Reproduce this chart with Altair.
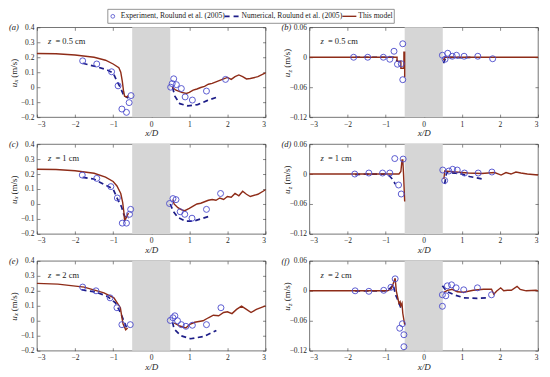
import altair as alt
import pandas as pd

W, H = 229, 90
FONT = "Liberation Serif"
C_EXP = "#4b4bcc"
C_NUM = "#1d1d88"
C_MOD = "#8e2c18"
C_BLOCK = "#d6d6d6"

X_TICKS = [-3, -2, -1, 0, 1, 2, 3]
UX_DOMAIN = [-0.2, 0.4]
UX_TICKS = [-0.2, -0.1, 0, 0.1, 0.2, 0.3, 0.4]
UZ_DOMAIN = [-0.12, 0.06]
UZ_TICKS = [-0.12, -0.06, 0, 0.06]
PILE = [-0.5, 0.5]

LEGEND_LABELS = ["Experiment, Roulund et al. (2005)", "Numerical, Roulund et al. (2005)", "This model"]
TAGS = ["(a)", "(b)", "(c)", "(d)", "(e)", "(f)"]
Z_LABELS = ["0.5 cm", "0.5 cm", "1 cm", "1 cm", "2 cm", "2 cm"]

# ---------- panel (a): u_x, z = 0.5 cm ----------
a_exp_x = [-1.80, -1.43, -1.04, -0.87, -0.53, -0.58, -0.77, -0.65, 0.51, 0.59, 0.55, 0.66, 0.79, 0.89, 1.08, 1.45, 1.95]
a_exp_y = [0.176, 0.155, 0.103, 0.009, -0.056, -0.103, -0.146, -0.168, 0.0, 0.056, 0.024, 0.017, -0.009, -0.065, -0.086, -0.026, 0.052]
a_num_lx = [-1.8, -1.46, -1.16, -1.0, -0.9, -0.81, -0.72, -0.6]
a_num_ly = [0.16, 0.138, 0.116, 0.095, 0.04, -0.002, -0.056, -0.073]
a_num_rx = [0.56, 0.62, 0.75, 0.96, 1.22, 1.48, 1.7]
a_num_ry = [-0.002, -0.06, -0.11, -0.125, -0.116, -0.088, -0.069]
a_mod_lx = [-3.0, -2.5, -2.0, -1.5, -1.2, -1.0, -0.85, -0.8, -0.76, -0.73, -0.7, -0.65, -0.6]
a_mod_ly = [0.225, 0.223, 0.215, 0.2, 0.18, 0.155, 0.13, 0.1, 0.04, -0.02, -0.06, -0.065, -0.055]
a_mod_rx = [0.55, 0.65, 0.8, 0.92, 1.0, 1.1, 1.2, 1.3, 1.4, 1.5, 1.6, 1.7, 1.8, 1.9, 2.0, 2.1, 2.2, 2.3, 2.4, 2.5, 2.6, 2.8, 3.0]
a_mod_ry = [0.0, -0.02, -0.035, -0.042, -0.035, -0.02, -0.012, -0.002, 0.005, 0.02, 0.025, 0.035, 0.045, 0.055, 0.065, 0.052, 0.07, 0.082, 0.07, 0.055, 0.058, 0.07, 0.095]

# ---------- panel (b): u_z, z = 0.5 cm ----------
b_exp_x = [-1.84, -1.47, -1.06, -0.89, -0.78, -0.69, -0.59, -0.55, -0.55, 0.49, 0.56, 0.63, 0.75, 0.86, 1.06, 1.42, 1.81]
b_exp_y = [0.0, 0.0, 0.0, -0.004, 0.012, -0.014, -0.013, 0.027, -0.045, 0.004, -0.004, 0.008, 0.002, 0.004, 0.002, 0.002, -0.003]
b_num_lx = [-1.8, -1.0, -0.8, -0.72, -0.7]
b_num_ly = [0.0, 0.0, 0.0, -0.003, -0.008]
b_num_rx = [0.52, 0.57, 0.7, 1.0, 1.3]
b_num_ry = [-0.012, -0.002, 0.0, -0.001, 0.0]
b_mod_lx = [-3.0, -0.7, -0.7, -0.6, -0.6, -0.52, -0.52, -0.5, -0.5]
b_mod_ly = [0.0, 0.0, -0.008, -0.008, -0.022, -0.022, 0.01, 0.01, -0.04]
b_mod_rx = [0.52, 0.55, 3.0]
b_mod_ry = [-0.006, 0.0, 0.0]

# ---------- panel (c): u_x, z = 1 cm ----------
c_exp_x = [-1.81, -1.43, -1.06, -0.89, -0.54, -0.57, -0.76, -0.65, 0.48, 0.57, 0.65, 0.76, 0.88, 1.07, 1.45, 1.82]
c_exp_y = [0.193, 0.171, 0.116, 0.04, -0.036, -0.069, -0.128, -0.128, 0.003, 0.036, 0.029, -0.052, -0.069, -0.095, -0.036, 0.07]
c_num_lx = [-1.8, -1.51, -1.26, -1.0, -0.89, -0.78, -0.72, -0.66, -0.6]
c_num_ly = [0.178, 0.167, 0.134, 0.1, 0.036, -0.019, -0.07, -0.1, -0.09]
c_num_rx = [0.5, 0.58, 0.7, 0.9, 1.1, 1.3, 1.55]
c_num_ry = [0.0, -0.05, -0.09, -0.115, -0.115, -0.1, -0.08]
c_mod_lx = [-3.0, -2.5, -2.0, -1.5, -1.2, -1.0, -0.9, -0.8, -0.75, -0.72, -0.7, -0.65, -0.6]
c_mod_ly = [0.232, 0.23, 0.222, 0.205, 0.18, 0.15, 0.12, 0.07, 0.01, -0.05, -0.11, -0.09, -0.06]
c_mod_rx = [0.57, 0.6, 0.7, 0.8, 0.88, 1.0, 1.1, 1.2, 1.3, 1.4, 1.5, 1.6, 1.7, 1.8, 1.9, 2.0, 2.1, 2.2, 2.3, 2.4, 2.5, 2.6, 2.8, 3.0]
c_mod_ry = [0.03, 0.0, -0.025, -0.04, -0.045, -0.03, -0.015, 0.0, 0.005, 0.015, 0.025, 0.03, 0.025, 0.04, 0.03, 0.05, 0.045, 0.07, 0.055, 0.085, 0.065, 0.05, 0.065, 0.095]

# ---------- panel (d): u_z, z = 1 cm ----------
d_exp_x = [-1.81, -1.44, -1.08, -0.89, -0.76, -0.54, -0.66, -0.59, 0.5, 0.55, 0.66, 0.76, 0.88, 1.07, 1.43, 1.79]
d_exp_y = [0.0, 0.002, 0.002, 0.002, 0.031, 0.03, -0.022, -0.04, 0.008, -0.013, 0.006, 0.0095, 0.008, 0.002, 0.002, 0.004]
d_num_lx = [-1.8, -1.4, -1.0, -0.9, -0.8, -0.75]
d_num_ly = [-0.001, 0.0, 0.0, -0.004, -0.012, -0.02]
d_num_rx = [0.55, 0.6, 0.8, 1.0, 1.2, 1.55]
d_num_ry = [-0.02, 0.003, 0.002, 0.0, -0.005, -0.01]
d_mod_lx = [-3.0, -0.65, -0.6, -0.57, -0.55, -0.53, -0.5]
d_mod_ly = [0.0, 0.0, 0.005, 0.028, 0.028, 0.0, -0.055]
d_mod_rx = [0.53, 0.55, 0.83, 1.17, 1.52, 1.86, 2.03, 2.16, 2.29, 2.42, 2.55, 2.72, 3.0]
d_mod_ry = [-0.01, 0.006, 0.004, 0.002, 0.001, 0.003, -0.002, 0.003, 0.0, 0.004, 0.002, 0.0, -0.002]

# ---------- panel (e): u_x, z = 2 cm ----------
e_exp_x = [-1.8, -1.45, -1.08, -0.9, -0.77, -0.55, 0.5, 0.57, 0.62, 0.69, 0.79, 0.91, 1.08, 1.45, 1.83]
e_exp_y = [0.225, 0.2, 0.153, 0.087, -0.026, -0.026, 0.002, 0.02, 0.033, 0.0, -0.026, -0.037, -0.03, -0.026, 0.087]
e_num_lx = [-1.83, -1.46, -1.16, -0.94, -0.81, -0.72, -0.65]
e_num_ly = [0.207, 0.192, 0.164, 0.12, 0.055, 0.0, -0.044]
e_num_rx = [0.56, 0.6, 0.78, 1.03, 1.38, 1.71]
e_num_ry = [-0.01, -0.055, -0.1, -0.12, -0.105, -0.065]
e_mod_lx = [-3.0, -2.45, -1.76, -1.24, -0.98, -0.81, -0.77, -0.74, -0.67, -0.62]
e_mod_ly = [0.25, 0.245, 0.225, 0.186, 0.153, 0.087, 0.022, -0.02, -0.06, -0.048]
e_mod_rx = [0.6, 0.75, 0.91, 1.0, 1.14, 1.36, 1.5, 1.63, 1.77, 1.9, 2.0, 2.12, 2.24, 2.37, 2.5, 2.62, 2.76, 3.0]
e_mod_ry = [-0.015, -0.035, -0.048, -0.026, -0.01, 0.0, 0.02, 0.037, 0.033, 0.055, 0.06, 0.048, 0.076, 0.098, 0.076, 0.055, 0.076, 0.1]

# ---------- panel (f): u_z, z = 2 cm ----------
f_exp_x = [-1.8, -1.44, -1.05, -0.86, -0.75, -0.63, -0.56, -0.52, -0.52, 0.49, 0.58, 0.49, 0.62, 0.73, 0.85, 1.05, 1.41, 1.78]
f_exp_y = [0.0, -0.001, 0.001, 0.007, 0.024, -0.075, -0.066, -0.088, -0.112, -0.008, -0.01, -0.031, 0.01, 0.012, 0.006, 0.002, 0.006, -0.008]
f_num_lx = [-1.8, -1.4, -1.0, -0.88, -0.8, -0.74, -0.67, -0.6]
f_num_ly = [0.0, 0.0, 0.0, 0.005, 0.012, -0.008, -0.02, -0.034]
f_num_rx = [0.49, 0.55, 0.62, 0.8, 1.05, 1.4, 1.66]
f_num_ry = [0.01, 0.004, -0.002, -0.008, -0.014, -0.015, -0.014]
f_mod_lx = [-3.0, -0.95, -0.85, -0.75, -0.72, -0.65, -0.62, -0.6, -0.57, -0.55, -0.5]
f_mod_ly = [0.0, 0.0, 0.004, 0.025, 0.0, -0.025, -0.022, -0.03, -0.025, -0.045, -0.068]
f_mod_rx = [0.53, 0.62, 0.75, 0.88, 1.05, 1.3, 1.57, 1.78, 1.84, 1.91, 2.02, 2.1, 2.2, 2.3, 2.45, 2.53, 2.69, 2.95, 3.0]
f_mod_ry = [-0.003, 0.001, 0.003, -0.002, -0.003, 0.001, 0.003, 0.003, -0.007, -0.001, 0.006, 0.0, 0.001, 0.001, 0.009, 0.003, 0.0, 0.001, 0.0]


def line_df(lx, ly, rx, ry):
    rows = []
    for seg, (xs, ys) in enumerate([(lx, ly), (rx, ry)]):
        for i, (x, y) in enumerate(zip(xs, ys)):
            rows.append({"x": x, "y": y, "seg": seg, "i": i})
    return pd.DataFrame(rows)


def one(text):
    return pd.DataFrame({"t": [text]})


def panel(idx, comp, ydom, yticks, yfmt, exp, num, mod, left_col):
    xs = alt.Scale(domain=[-3, 3], nice=False, zero=False)
    ys = alt.Scale(domain=ydom, nice=False, zero=False)
    ax_bottom = alt.Axis(values=X_TICKS, format="d", title="x/D", titleFontStyle="italic",
                         offset=-3, tickSize=3, labelPadding=3, titlePadding=1)
    ax_top = alt.Axis(values=X_TICKS, orient="top", labels=False, title=None, offset=-3, tickSize=3)
    ax_left = alt.Axis(values=yticks, format=yfmt, title=None, offset=-3, tickSize=3, labelPadding=3)
    ax_right = alt.Axis(values=yticks, orient="right", labels=False, title=None, offset=-3, tickSize=3)

    block = alt.Chart(pd.DataFrame({"x0": [PILE[0]], "x1": [PILE[1]]})).mark_rect(color=C_BLOCK).encode(
        x=alt.X("x0:Q", scale=xs, axis=ax_bottom), x2="x1:Q",
        y=alt.value(0), y2=alt.value(H))

    numl = alt.Chart(line_df(*num)).mark_line(color=C_NUM, strokeDash=[5, 3.5], strokeWidth=1.7).encode(
        x=alt.X("x:Q", scale=xs, axis=None), y=alt.Y("y:Q", scale=ys, axis=ax_left),
        detail="seg:N", order="i:Q")

    modl = alt.Chart(line_df(*mod)).mark_line(color=C_MOD, strokeWidth=1.4).encode(
        x=alt.X("x:Q", scale=xs, axis=ax_top), y=alt.Y("y:Q", scale=ys, axis=ax_right),
        detail="seg:N", order="i:Q")

    expl = alt.Chart(pd.DataFrame({"x": exp[0], "y": exp[1]})).mark_point(
        shape="circle", filled=False, size=36, strokeWidth=0.9, color=C_EXP, opacity=1).encode(
        x=alt.X("x:Q", scale=xs, axis=None), y=alt.Y("y:Q", scale=ys, axis=None))

    tag_x = -28
    tit_x = -23 if left_col else -22
    cy = H / 2 if left_col else H / 2 - 10
    tag = alt.Chart(one(TAGS[idx])).mark_text(align="left", baseline="middle", font=FONT, fontSize=8.5,
                                               fontStyle="italic", color="#222").encode(
        x=alt.value(tag_x), y=alt.value(0), text="t:N")
    zlab1 = alt.Chart(one("z")).mark_text(align="left", baseline="middle", font=FONT, fontSize=8.5,
                                          fontStyle="italic", color="#222").encode(
        x=alt.value(11), y=alt.value(14), text="t:N")
    zlab2 = alt.Chart(one("= " + Z_LABELS[idx])).mark_text(align="left", baseline="middle", font=FONT,
                                                           fontSize=8.5, color="#222").encode(
        x=alt.value(18.5), y=alt.value(14), text="t:N")
    yt1 = alt.Chart(one("u")).mark_text(align="left", baseline="middle", angle=270, font=FONT, fontSize=9,
                                        fontStyle="italic", color="#222").encode(
        x=alt.value(tit_x), y=alt.value(cy + 15), text="t:N")
    yt2 = alt.Chart(one(comp)).mark_text(align="left", baseline="middle", angle=270, font=FONT, fontSize=6.5,
                                         fontStyle="italic", color="#222").encode(
        x=alt.value(tit_x + 2.2), y=alt.value(cy + 10.3), text="t:N")
    yt3 = alt.Chart(one("(m/s)")).mark_text(align="left", baseline="middle", angle=270, font=FONT, fontSize=9,
                                            color="#222").encode(
        x=alt.value(tit_x), y=alt.value(cy + 5.5), text="t:N")

    layers = [block, numl, modl, expl, tag, zlab1, zlab2, yt1, yt2, yt3]

    if idx == 0:
        ly = -11
        box = alt.Chart(one("box")).mark_rect(fill="white", stroke="#7a7a7a", strokeWidth=0.8).encode(
            x=alt.value(71), x2=alt.value(358), y=alt.value(-18), y2=alt.value(-4))
        sym1 = alt.Chart(one("e")).mark_point(shape="circle", filled=False, size=14, strokeWidth=0.8,
                                              color=C_EXP, opacity=1).encode(x=alt.value(76), y=alt.value(ly))
        sym2 = alt.Chart(one("n")).mark_rule(color=C_NUM, strokeWidth=1.7, strokeDash=[5, 4]).encode(
            x=alt.value(188), x2=alt.value(203), y=alt.value(ly))
        sym3 = alt.Chart(one("m")).mark_rule(color=C_MOD, strokeWidth=1.4).encode(
            x=alt.value(306), x2=alt.value(320), y=alt.value(ly))
        txts = []
        for lab, xp in zip(LEGEND_LABELS, [84, 205, 322]):
            txts.append(alt.Chart(one(lab)).mark_text(align="left", baseline="middle", font=FONT,
                                                      fontSize=7.6, color="#222").encode(
                x=alt.value(xp), y=alt.value(ly), text="t:N"))
        layers += [box, sym1, sym2, sym3] + txts

    return alt.layer(*layers).resolve_axis(x="independent", y="independent").properties(width=W, height=H)


panels = [
    panel(0, "x", UX_DOMAIN, UX_TICKS, ".1~f", (a_exp_x, a_exp_y), (a_num_lx, a_num_ly, a_num_rx, a_num_ry),
          (a_mod_lx, a_mod_ly, a_mod_rx, a_mod_ry), True),
    panel(1, "z", UZ_DOMAIN, UZ_TICKS, ".2~f", (b_exp_x, b_exp_y), (b_num_lx, b_num_ly, b_num_rx, b_num_ry),
          (b_mod_lx, b_mod_ly, b_mod_rx, b_mod_ry), False),
    panel(2, "x", UX_DOMAIN, UX_TICKS, ".1~f", (c_exp_x, c_exp_y), (c_num_lx, c_num_ly, c_num_rx, c_num_ry),
          (c_mod_lx, c_mod_ly, c_mod_rx, c_mod_ry), True),
    panel(3, "z", UZ_DOMAIN, UZ_TICKS, ".2~f", (d_exp_x, d_exp_y), (d_num_lx, d_num_ly, d_num_rx, d_num_ry),
          (d_mod_lx, d_mod_ly, d_mod_rx, d_mod_ry), False),
    panel(4, "x", UX_DOMAIN, UX_TICKS, ".1~f", (e_exp_x, e_exp_y), (e_num_lx, e_num_ly, e_num_rx, e_num_ry),
          (e_mod_lx, e_mod_ly, e_mod_rx, e_mod_ry), True),
    panel(5, "z", UZ_DOMAIN, UZ_TICKS, ".2~f", (f_exp_x, f_exp_y), (f_num_lx, f_num_ly, f_num_rx, f_num_ry),
          (f_mod_lx, f_mod_ly, f_mod_rx, f_mod_ry), False),
]

chart = alt.concat(*panels, columns=2, spacing={"row": 27, "column": 44}, bounds="flush", padding=0,
                   background="white").configure_view(
    stroke="#3a3a3a", strokeWidth=0.7
).configure_axis(
    labelFont=FONT, labelFontSize=7.5, labelColor="#262626", tickColor="#3a3a3a", tickWidth=0.6,
    domain=False, grid=False, titleFont=FONT, titleFontSize=9, titleColor="#262626", titleFontWeight="normal"
)

chart.save("out.html", embed_options={"renderer": "svg", "actions": False})
